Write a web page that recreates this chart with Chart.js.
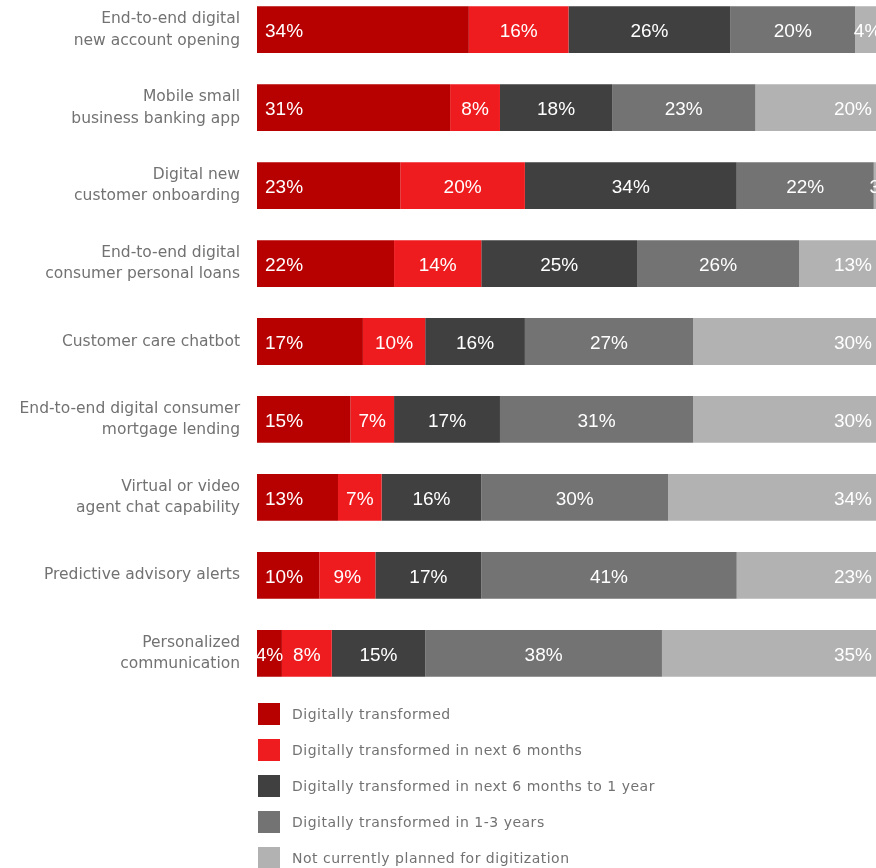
<!DOCTYPE html>
<html>
<head>
<meta charset="utf-8">
<script src="https://cdn.jsdelivr.net/npm/chart.js"></script>
<style>
    html, body { margin: 0; padding: 0; background: #fff; overflow: hidden; width: 876px; height: 868px; }
    #wrap { position: absolute; left: 0; top: -40px; width: 880px; height: 763px; }
    #legend { position: absolute; left: 258px; top: 696px; font-family: "DejaVu Sans", sans-serif; font-size: 14px; letter-spacing: 0.5px; color: #727272; }
    .item { display: flex; align-items: center; height: 36px; }
    .item .box { width: 22px; height: 22px; margin-right: 12px; }
</style>
</head>
<body>
<div id="wrap"><canvas id="adoptionChart"></canvas></div>
<div id="legend"></div>
<script>
const categories = [
    ['End-to-end digital', 'new account opening'],
    ['Mobile small', 'business banking app'],
    ['Digital new', 'customer onboarding'],
    ['End-to-end digital', 'consumer personal loans'],
    'Customer care chatbot',
    ['End-to-end digital consumer', 'mortgage lending'],
    ['Virtual or video', 'agent chat capability'],
    'Predictive advisory alerts',
    ['Personalized', 'communication']
];
const seriesNames = [
    'Digitally transformed',
    'Digitally transformed in next 6 months',
    'Digitally transformed in next 6 months to 1 year',
    'Digitally transformed in 1-3 years',
    'Not currently planned for digitization'
];
const transformed = [34, 31, 23, 22, 17, 15, 13, 10, 4];
const next6Months = [16, 8, 20, 14, 10, 7, 7, 9, 8];
const next6To12Months = [26, 18, 34, 25, 16, 17, 16, 17, 15];
const oneToThreeYears = [20, 23, 22, 26, 27, 31, 30, 41, 38];
const notPlanned = [4, 20, 3, 13, 30, 30, 34, 23, 35];
const seriesColors = ['#b70000', '#ee1b1f', '#404040', '#737373', '#b2b2b2'];

// white percentage labels inside the segments
const segmentLabels = {
    id: 'segmentLabels',
    afterDatasetsDraw(chart) {
        const ctx = chart.ctx;
        ctx.save();
        ctx.font = '19px "Liberation Sans", sans-serif';
        ctx.fillStyle = '#ffffff';
        ctx.textBaseline = 'middle';
        const last = chart.data.datasets.length - 1;
        chart.data.datasets.forEach((ds, i) => {
            chart.getDatasetMeta(i).data.forEach((bar, j) => {
                const text = ds.data[j] + '%';
                const w = ctx.measureText(text).width;
                const left = Math.min(bar.base, bar.x);
                const right = Math.max(bar.base, bar.x);
                const narrow = right - left < w + 16;
                let x = (left + right) / 2;
                ctx.textAlign = 'center';
                if (!narrow && i === 0) {
                    ctx.textAlign = 'left';
                    x = left + 8;
                } else if (!narrow && i === last) {
                    ctx.textAlign = 'right';
                    x = right - 8;
                }
                ctx.fillText(text, x, bar.y + 2);
            });
        });
        ctx.restore();
    }
};

document.addEventListener('DOMContentLoaded', function() {
    const ctx = document.getElementById('adoptionChart');
    const values = [transformed, next6Months, next6To12Months, oneToThreeYears, notPlanned];
    const chart = new Chart(ctx, {
        type: 'bar',
        data: {
            labels: categories,
            datasets: values.map((data, i) => ({
                label: seriesNames[i],
                data: data,
                backgroundColor: seriesColors[i],
                borderWidth: 0,
                barPercentage: 1,
                categoryPercentage: 0.6
            }))
        },
        options: {
            indexAxis: 'y',
            responsive: true,
            maintainAspectRatio: false,
            animation: false,
            layout: { padding: 0 },
            plugins: {
                legend: { display: false },
                tooltip: { enabled: false }
            },
            scales: {
                x: {
                    stacked: true,
                    display: false,
                    min: 0,
                    max: 100
                },
                y: {
                    stacked: true,
                    grid: { display: false },
                    border: { display: false },
                    afterFit: function(scale) { scale.width = 257; },
                    ticks: {
                        color: '#727272',
                        padding: 9,
                        font: {
                            family: '"DejaVu Sans", sans-serif',
                            size: 15.5,
                            lineHeight: 1.4
                        }
                    }
                }
            }
        },
        plugins: [segmentLabels]
    });

    // vertical legend list under the bars
    const legend = document.getElementById('legend');
    chart.data.datasets.forEach(ds => {
        const item = document.createElement('div');
        item.className = 'item';
        item.innerHTML = '<span class="box" style="background:' + ds.backgroundColor + '"></span>' + ds.label;
        legend.appendChild(item);
    });
});
</script>
</body>
</html>
